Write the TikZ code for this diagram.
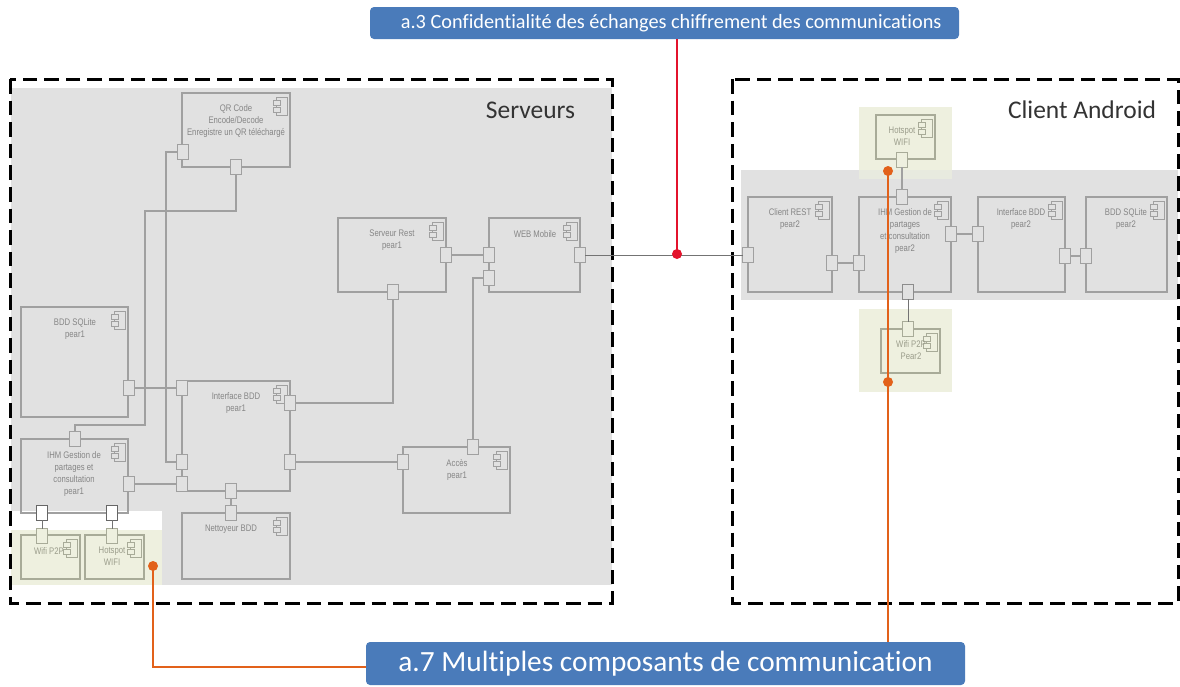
\documentclass[tikz,border=0pt]{standalone}
\usepackage{fontspec}
\setmainfont[Ligatures=NoCommon]{Carlito}
\newfontfamily\umlfont[FakeStretch=0.81]{Liberation Sans}
\definecolor{bgray}{HTML}{E1E1E1}
\definecolor{bgreen}{HTML}{EEF0DF}
\definecolor{lgray}{HTML}{A0A0A0}
\definecolor{lgreen}{HTML}{A8AB98}
\definecolor{tgray}{HTML}{858585}
\definecolor{tgreen}{HTML}{9A9C8A}
\definecolor{callblue}{HTML}{4A7BBA}
\definecolor{callorange}{HTML}{E2611A}
\definecolor{callred}{HTML}{E3132C}
\tikzset{
  x=0.75pt,y=-0.75pt,
  frame/.style={draw=black,line width=2.25pt,dash pattern=on 10.9pt off 5.3pt},
  compbox/.style={draw=lgray,line width=0.85pt,inner sep=0pt,outer sep=0pt},
  greenbox/.style={compbox,draw=lgreen},
  portbox/.style={draw=lgray,line width=0.85pt,fill=bgray,minimum width=8.2pt,minimum height=11.2pt,inner sep=0pt,outer sep=0pt},
  portgreen/.style={portbox,draw=lgreen,fill=bgreen},
  portwhite/.style={portbox,draw=black!60,fill=white},
  wire/.style={draw=lgray,line width=0.85pt},
  wiredark/.style={draw=black!55,line width=0.75pt},
  icon/.style={draw=lgray,line width=0.55pt,fill=bgray},
  icongreen/.style={draw=lgreen,line width=0.55pt,fill=bgreen},
  umltext/.style={text=tgray,font=\umlfont\fontsize{7.15pt}{9pt}\selectfont,align=center,inner sep=0pt,anchor=north},
  title/.style={text=black!80,font=\fontsize{19.1pt}{21pt}\selectfont,inner sep=0pt},
  callout/.style={fill=callblue,text=white,rounded corners=3pt,inner sep=0pt},
  orangeline/.style={draw=callorange,line width=1.1pt},
  redline/.style={draw=callred,line width=1.1pt},
  dot/.style={circle,inner sep=0pt,minimum size=7.5pt}
}
\newcommand{\compnode}[6]{% style, name, x1, y1, x2, y2
  \node[#1,minimum width={(#5-#3)*0.75pt},minimum height={(#6-#4)*0.75pt}] (#2) at ({(#3+#5)/2},{(#4+#6)/2}) {};
}
\newcommand{\compicon}[2]{% style, name
  \draw[#1] ([shift={(-14,4)}]#2.north east) rectangle +(11,18);
  \draw[#1] ([shift={(-17,7)}]#2.north east) rectangle +(7,5);
  \draw[#1] ([shift={(-17,14)}]#2.north east) rectangle +(7,5);
}
\begin{document}
\begin{tikzpicture}
\useasboundingbox (0,0) rectangle (1180,686);
\fill[white] (0,0) rectangle (1180,686);
% backgrounds
\fill[bgray] (11,88) rectangle (612,585);
\fill[white] (10,511) rectangle (162,530);
\fill[bgreen] (11,530) rectangle (162,585);
\fill[bgray] (741,170) rectangle (1178,300);
\fill[bgreen] (859,107) rectangle (952,179);
\fill[bgreen] (859,309) rectangle (952,392);
\fill[bgray] (859,170) rectangle (952,179);
\fill[bgreen,opacity=.6] (859,170) rectangle (952,179);
% frames
\draw[frame] (10,79) rectangle (612,603);
\draw[frame] (732,79) rectangle (1178,603);
% components, left
\compnode{compbox}{qr}{182}{93}{290}{167}
\compnode{compbox}{bddA}{21}{307}{128}{417}
\compnode{compbox}{ifA}{182}{381}{290}{491}
\compnode{compbox}{ihmA}{21}{439}{128}{513}
\compnode{greenbox}{wifiA}{21}{535}{80}{579}
\compnode{greenbox}{hotA}{85}{535}{144}{579}
\compnode{compbox}{net}{182}{513}{290}{579}
\compnode{compbox}{rest}{338}{218}{446}{292}
\compnode{compbox}{web}{489}{218}{580}{292}
\compnode{compbox}{acc}{403}{447}{510}{513}
% components, right
\compnode{compbox}{cli}{748}{197}{832}{292}
\compnode{compbox}{ihmB}{859}{197}{951}{292}
\compnode{greenbox}{hotB}{876}{115}{935}{159}
\compnode{greenbox}{wifiB}{881}{329}{940}{373}
\compnode{compbox}{ifB}{978}{197}{1065}{292}
\compnode{compbox}{bddB}{1086}{197}{1167}{292}
\foreach \n in {qr,bddA,ifA,ihmA,net,rest,web,acc,cli,ihmB,ifB,bddB}{\compicon{icon}{\n}}
\foreach \n in {wifiA,hotA,hotB,wifiB}{\compicon{icongreen}{\n}}
% ports
\node[portbox] (qrL) at (183,152) {};
\node[portbox] (qrB) at (236,167) {};
\node[portbox] (bddP) at (129,388) {};
\node[portbox] (ifL1) at (182,388) {};
\node[portbox] (ifL2) at (182,462) {};
\node[portbox] (ifL3) at (182,484) {};
\node[portbox] (ifB1) at (231,491) {};
\node[portbox] (ifR1) at (290,403) {};
\node[portbox] (ifR2) at (290,462) {};
\node[portbox] (ihmT) at (75,439) {};
\node[portbox] (ihmR) at (129,484) {};
\node[portwhite] (ihmB1) at (42,513) {};
\node[portwhite] (ihmB2) at (112,513) {};
\node[portgreen] (wifiP) at (42,536) {};
\node[portgreen] (hotP) at (112,536) {};
\node[portbox] (netP) at (231,513) {};
\node[portbox] (restR) at (446,255) {};
\node[portbox] (restB) at (393,292) {};
\node[portbox] (webL1) at (489,255) {};
\node[portbox] (webL2) at (489,278) {};
\node[portbox] (webR) at (580,255) {};
\node[portbox] (accT) at (473,447) {};
\node[portbox] (accL) at (403,462) {};
\node[portbox] (cliL) at (748,255) {};
\node[portbox] (cliR) at (832,263) {};
\node[portbox] (ihL) at (859,263) {};
\node[portbox] (ihT) at (902,197) {};
\node[portbox,draw=black!45] (ihB) at (908,292) {};
\node[portbox] (ihR) at (951,234) {};
\node[portgreen] (hotBP) at (902,160) {};
\node[portgreen] (wifiBP) at (908,329) {};
\node[portbox] (ifBL) at (978,234) {};
\node[portbox] (ifBR) at (1065,256) {};
\node[portbox] (bddBP) at (1086,256) {};
% connectors
\coordinate (qrBus) at (166,300);
\coordinate (ihmBusA) at (145,211);
\coordinate (ihmBusB) at (145,425);
\draw[wire] (qrL.west) -| (qrBus) |- (ifL2.west);
\draw[wire] (qrB.south) |- (ihmBusA) -- (ihmBusB) -| (ihmT.north);
\draw[wire] (bddP.east) -- (ifL1.west);
\draw[wire] (ifL1.south) -- (ifL2.north);
\draw[wire] (ifL2.south) -- (ifL3.north);
\draw[wire] (ihmR.east) -- (ifL3.west);
\draw[wire] (ifB1.south) -- (netP.north);
\draw[wire] (ifR1.east) -| (restB.south);
\draw[wire] (ifR2.east) -- (accL.west);
\draw[wire] (restR.east) -- (webL1.west);
\draw[wire] (webL1.south) -- (webL2.north);
\draw[wire] (accT.north) |- (webL2.west);
\draw[wiredark] (ihmB1.south) -- (wifiP.north);
\draw[wiredark] (ihmB2.south) -- (hotP.north);
\draw[wiredark] (webR.east) -- (cliL.west);
\draw[wire] (cliR.east) -- (ihL.west);
\draw[wire] (hotBP.south) -- (ihT.north);
\draw[wiredark] (ihB.south) -- (wifiBP.north);
\draw[wire] (ihR.east) -- (ifBL.west);
\draw[wire] (ifBR.east) -- (bddBP.west);
% texts
\node[umltext] (tqr) at (236,104) {QR Code\\Encode/Decode\\Enregistre un QR téléchargé};
\node[umltext] (tbddA) at (75,318) {BDD SQLite\\pear1};
\node[umltext] (tifA) at (236,392) {Interface BDD\\pear1};
\node[umltext] (tihmA) at (74,451) {IHM Gestion de\\partages et\\consultation\\pear1};
\node[umltext,text=tgreen] (twifiA) at (49,547) {Wifi P2P};
\node[umltext,text=tgreen] (thotA) at (112,547) {Hotspot\\WIFI};
\node[umltext] (tnet) at (231,525) {Nettoyeur BDD};
\node[umltext] (trest) at (392,230) {Serveur Rest\\pear1};
\node[umltext] (tweb) at (535,230) {WEB Mobile};
\node[umltext] (tacc) at (457,459) {Accès\\pear1};
\node[umltext] (tcli) at (790,208) {Client REST\\pear2};
\node[umltext] (tihmB) at (905,208) {IHM Gestion de\\partages\\et consultation\\pear2};
\node[umltext,text=tgreen] (thotB) at (902,127) {Hotspot\\WIFI};
\node[umltext,text=tgreen] (twifiB) at (911,340) {Wifi P2P\\Pear2};
\node[umltext] (tifB) at (1021,208) {Interface BDD\\pear2};
\node[umltext] (tbddB) at (1126,208) {BDD SQLite\\pear2};
\node[title] (tserv) at (530.5,110) {Serveurs};
\node[title] (tand) at (1082,110) {Client Android};
% callouts
\node[callout,minimum width=441.75pt,minimum height=24pt,font=\fontsize{15.2pt}{17pt}\selectfont] (ca3) at (664.5,23) {\hspace*{10pt}a.3 Confidentialité des échanges chiffrement des communications};
\node[callout,minimum width=449.25pt,minimum height=32.25pt,font=\fontsize{22pt}{24pt}\selectfont] (ca7) at (665.5,663.5) {a.7 Multiples composants de communication};
\node[dot,fill=callred] (dr) at (677,254) {};
\node[dot,fill=callorange] (do1) at (153,566) {};
\node[dot,fill=callorange] (do2) at (888,171) {};
\node[dot,fill=callorange] (do3) at (888,382) {};
\coordinate (caEnd) at (366,667);
\draw[redline] (dr.center) -- (dr.center |- ca3.south);
\draw[orangeline] (do1.center) |- (caEnd);
\draw[orangeline] (do2.center) -- (do3.center);
\draw[orangeline] (do3.center) -- (do3.center |- ca7.north);
\end{tikzpicture}
\end{document}
